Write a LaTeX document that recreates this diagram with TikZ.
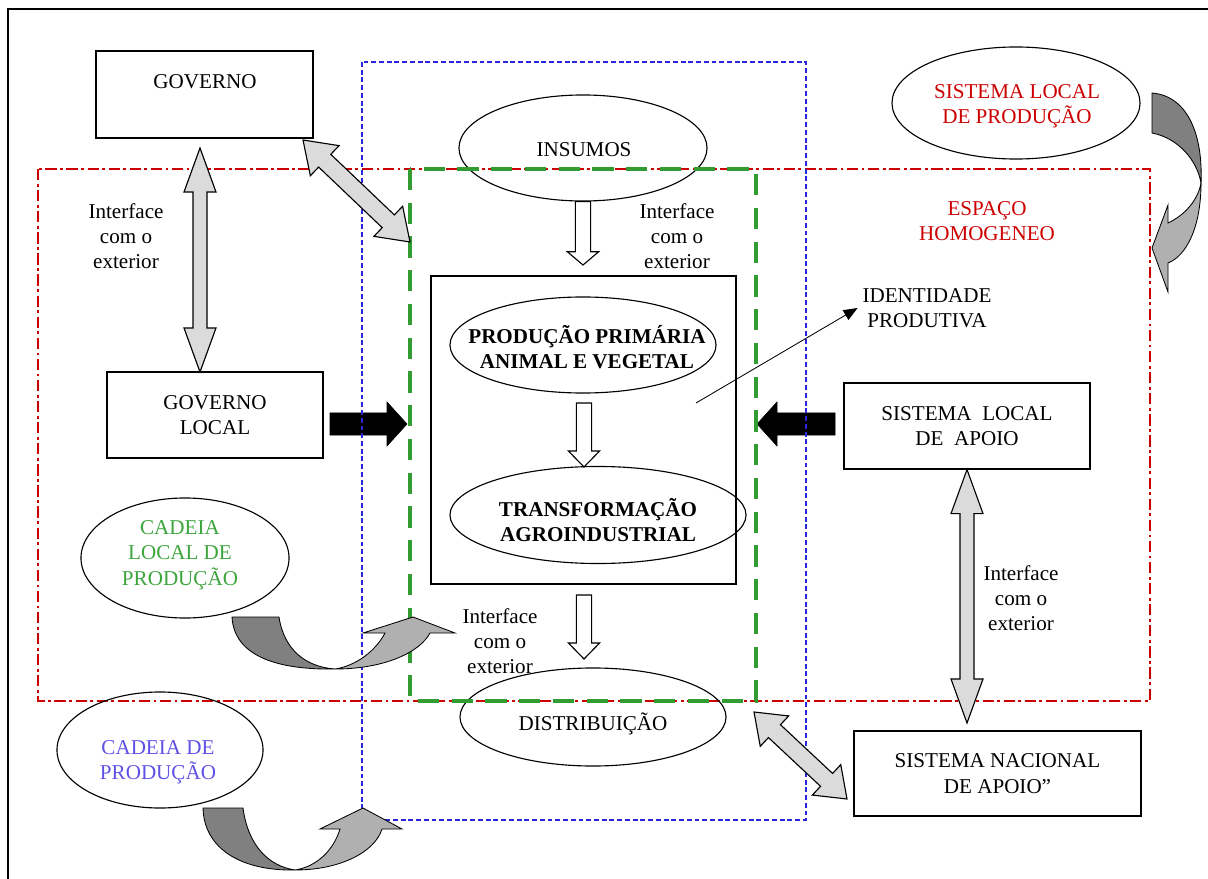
\documentclass[tikz,border=0pt]{standalone}
\usepackage{fontspec}
\setmainfont{Liberation Serif}
\usetikzlibrary{shapes.geometric,positioning,calc,arrows.meta}

\definecolor{frred}{RGB}{204,0,0}
\definecolor{frblue}{RGB}{40,40,220}
\definecolor{frgreen}{RGB}{50,155,50}
\definecolor{txblue}{RGB}{95,80,230}
\definecolor{txgreen}{RGB}{60,165,60}

\tikzset{
  box/.style={rectangle, draw, line width=0.8pt, align=center, font=\fontsize{15}{18}\selectfont},
  oval/.style={ellipse, draw, line width=0.8pt, inner sep=0pt},
  txt/.style={align=center, font=\fontsize{15}{18}\selectfont},
  btxt/.style={align=center, font=\fontsize{15}{18}\selectfont\bfseries},
  hollow/.style={draw, line width=0.8pt, fill=white},
  fat/.style={draw=black, fill=black},
  grayarr/.style={draw, line width=0.8pt, fill=black!14},
  curvedark/.style={draw, line width=0.6pt, fill=black!50},
  curvelight/.style={draw, line width=0.6pt, fill=black!31},
  idarrow/.style={line width=0.6pt, -{Triangle[length=0.35cm, width=0.28cm]}}
}

% style, tail, tip, shaft half width, head half width, head length
\newcommand{\oneway}[6]{%
  \filldraw[#1] (#3) -- ($(#3)!#6!(#2)!#5!90:(#2)$) -- ($(#3)!#6!(#2)!#4!90:(#2)$)
    -- ($(#2)!#4!-90:(#3)$) -- ($(#2)!#4!90:(#3)$)
    -- ($(#3)!#6!(#2)!#4!-90:(#2)$) -- ($(#3)!#6!(#2)!#5!-90:(#2)$) -- cycle;}
\newcommand{\twoway}[6]{%
  \filldraw[#1] (#2) -- ($(#2)!#6!(#3)!#5!90:(#3)$) -- ($(#2)!#6!(#3)!#4!90:(#3)$)
    -- ($(#3)!#6!(#2)!#4!-90:(#2)$) -- ($(#3)!#6!(#2)!#5!-90:(#2)$) -- (#3)
    -- ($(#3)!#6!(#2)!#5!90:(#2)$) -- ($(#3)!#6!(#2)!#4!90:(#2)$)
    -- ($(#2)!#6!(#3)!#4!-90:(#3)$) -- ($(#2)!#6!(#3)!#5!-90:(#3)$) -- cycle;}

\begin{document}
\begin{tikzpicture}[x=0.025cm, y=-0.025cm]
    \useasboundingbox (0,0) rectangle (1208,879);
    \draw[line width=0.8pt] (1208,9) -- (8,9) -- (8,879);
    \draw[frred, line width=1.4pt, dash pattern=on 8pt off 2.5pt on 2pt off 2.5pt] (38,169) rectangle (1150,701);

    \node[box, minimum width=5.425cm, minimum height=2.175cm] (gov) at (204.5,94.5) {};
    \node[txt] (gov-t) at (205,82) {GOVERNO};
    \node[box, minimum width=5.4cm, minimum height=2.15cm] (govl) at (215,415) {GOVERNO\\LOCAL};
    \node[box, minimum width=6.15cm, minimum height=2.15cm] (sla) at (967,426) {SISTEMA\ \ LOCAL\\DE\ \ APOIO};
    \node[box, minimum width=7.175cm, minimum height=2.125cm] (sna) at (997.5,773.5) {SISTEMA NACIONAL\\DE APOIO''};
    \node[box, minimum width=7.625cm, minimum height=7.7cm] (core) at (583.5,430) {};

    \node[oval, minimum width=6.2cm, minimum height=2.65cm] (ins) at (583,148) {};
    \node[txt] (ins-t) at (584,150) {INSUMOS};
    \node[oval, minimum width=6.65cm, minimum height=2.4cm] (prim) at (583,345) {};
    \node[btxt] (prim-t) at (587,347) {PRODUÇÃO PRIMÁRIA\\ANIMAL E VEGETAL};
    \node[oval, minimum width=7.4cm, minimum height=2.425cm] (trans) at (598,515) {};
    \node[btxt] (trans-t) at (598,520) {TRANSFORMAÇÃO\\AGROINDUSTRIAL};
    \node[oval, minimum width=6.65cm, minimum height=2.45cm] (dist) at (593,717) {};
    \node[txt] (dist-t) at (593,724) {DISTRIBUIÇÃO};

    \node[oval, minimum width=6.2cm, minimum height=2.8cm] (slp) at (1016,103) {};
    \node[txt, text=frred] (slp-t) at (1017,106) {SISTEMA LOCAL\\DE PRODUÇÃO};
    \node[txt, text=frred] (esp) at (987,221) {ESPAÇO\\HOMOGENEO};
    \node[oval, minimum width=5.2cm, minimum height=3cm] (cadl) at (185,558) {};
    \node[txt, text=txgreen] (cadl-t) at (180,555) {CADEIA\\LOCAL DE\\PRODUÇÃO};
    \node[oval, minimum width=5.15cm, minimum height=2.9cm] (cad) at (160,750) {};
    \node[txt, text=txblue] (cad-t) at (158,762) {CADEIA DE\\PRODUÇÃO};
    \node[txt] (idp) at (927,308) {IDENTIDADE\\PRODUTIVA};

    \node[txt] (if1) at (126,236) {Interface\\com o\\exterior};
    \node[txt] (if2) at (677,236) {Interface\\com o\\exterior};
    \node[txt] (if3) at (500,641) {Interface\\com o\\exterior};
    \node[txt] (if4) at (1021,598) {Interface\\com o\\exterior};

    \coordinate (a1) at (583,265);
    \coordinate (a2s) at (584,403);
    \coordinate (a2e) at (584,467);
    \coordinate (a3s) at (584,595);
    \coordinate (a3e) at (584,659);
    \coordinate (g1a) at (200,148);
    \coordinate (g1b) at (200,372);
    \coordinate (g2a) at (303,140);
    \coordinate (g2b) at (410,242);
    \coordinate (g3b) at (967,723);
    \coordinate (g4a) at (754,712);
    \coordinate (g4b) at (847,799);
    \coordinate (b1s) at (330,424);
    \coordinate (b1e) at (407,424);
    \coordinate (b2s) at (835,424);
    \coordinate (b2e) at (757,424);
    \coordinate (idp-s) at (696,403);

    \oneway{fat}{b1s}{b1e}{0.275cm}{0.55cm}{0.5cm}
    \oneway{fat}{b2s}{b2e}{0.275cm}{0.55cm}{0.5cm}

    \draw[frblue, line width=1.5pt, dash pattern=on 3.5pt off 2pt] (362,62) rectangle (806,820);
    \draw[frgreen, line width=3.5pt, dash pattern=on 15pt off 9pt] (410,169) rectangle (756,701);

    \oneway{hollow}{ins.south}{a1}{0.19cm}{0.39cm}{0.33cm}
    \oneway{hollow}{a2s}{a2e}{0.19cm}{0.39cm}{0.4cm}
    \oneway{hollow}{a3s}{a3e}{0.19cm}{0.39cm}{0.4cm}

    \twoway{grayarr}{g1a}{g1b}{0.175cm}{0.4cm}{1.1cm}
    \twoway{grayarr}{g2a}{g2b}{0.22cm}{0.52cm}{0.75cm}
    \twoway{grayarr}{sla.south}{g3b}{0.175cm}{0.4cm}{1.1cm}
    \twoway{grayarr}{g4a}{g4b}{0.22cm}{0.52cm}{0.7cm}

    \draw[idarrow] (idp-s) -- (idp.west);

    \filldraw[curvedark] (232,617) -- (279,617) .. controls (284,650) and (306,667) .. (335,669) .. controls (275,670) and (234,655) .. (232,617) -- cycle;
    \filldraw[curvelight] (335,669) .. controls (385,669) and (420,652) .. (430,633) -- (455,633) -- (413,617) -- (363,633) -- (385,633) .. controls (375,652) and (355,666) .. (335,669) -- cycle;
    \filldraw[curvedark] (203,808) -- (243,808) .. controls (248,845) and (268,866) .. (295,870) .. controls (240,871) and (204,848) .. (203,808) -- cycle;
    \filldraw[curvelight] (295,870) .. controls (340,870) and (375,852) .. (382,829) -- (402,829) -- (363,808) -- (320,829) -- (340,829) .. controls (333,852) and (315,867) .. (295,870) -- cycle;
    \filldraw[curvedark] (1152,93) -- (1152,133) .. controls (1178,138) and (1197,160) .. (1201,183) .. controls (1203,135) and (1188,96) .. (1152,93) -- cycle;
    \filldraw[curvelight] (1201,183) .. controls (1201,228) and (1186,256) .. (1168,263) -- (1168,292) -- (1152,248) -- (1168,205) -- (1168,223) .. controls (1185,215) and (1198,200) .. (1201,183) -- cycle;
\end{tikzpicture}
\end{document}
